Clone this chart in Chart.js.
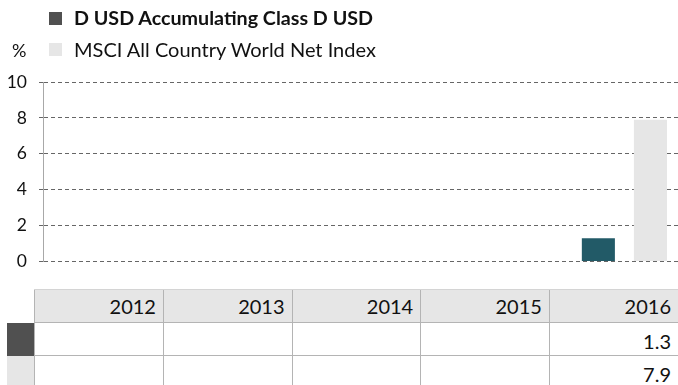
<!DOCTYPE html>
<html>
<head>
<meta charset="utf-8">
<script src="https://cdn.jsdelivr.net/npm/chart.js@4/dist/chart.umd.min.js"></script>
<style>
  html, body { margin: 0; padding: 0; background: #fff; }
  body { width: 678px; height: 385px; overflow: hidden; position: relative; font-family: Lato, "Open Sans", sans-serif; color: #111; }
  #plot { position: absolute; left: 0; top: 0; }
  .swatch { position: absolute; width: 13px; height: 13px; }
  .legtext { position: absolute; left: 74px; line-height: 22px; white-space: nowrap; }
  #unit { position: absolute; left: 12px; top: 39px; font-size: 18px; line-height: 22px; }
  #tbl { position: absolute; left: 7px; top: 289px; border-collapse: collapse; table-layout: fixed; font-size: 20px; }
  #tbl td { padding: 0 7px 0 0; text-align: right; box-sizing: border-box; }
  #tbl tr.head td.val { background: #e6e6e6; border-top: 1px solid #d4d4d4; height: 33px; }
  #tbl tr.row td { height: 33px; padding-top: 3px; }
  #tbl td.val { border-left: 1px solid #b4b4b4; border-bottom: 1px solid #b4b4b4; }
  #tbl td.mark { padding: 0; }
</style>
</head>
<body>
<canvas id="plot" width="700" height="284"></canvas>
<div id="unit">%</div>
<div class="swatch" style="left:49px;top:12px;background:#505050"></div>
<div class="legtext" id="leg1" style="top:7px;font-weight:bold;font-size:19.7px"></div>
<div class="swatch" style="left:49px;top:43px;background:#e6e6e6"></div>
<div class="legtext" id="leg2" style="top:38px;font-size:20px"></div>
<table id="tbl"></table>
<script>
// Calendar-year returns, in percent
const years = ['2012', '2013', '2014', '2015', '2016'];
const fundReturns = [null, null, null, null, 1.3];
const indexReturns = [null, null, null, null, 7.9];
const yTicks = [0, 2, 4, 6, 8, 10];
const fundName = 'D USD Accumulating Class D USD';
const indexName = 'MSCI All Country World Net Index';

const FUND_BAR = '#225a67';
const FUND_KEY = '#505050';
const INDEX_COLOR = '#e6e6e6';

document.getElementById('leg1').textContent = fundName;
document.getElementById('leg2').textContent = indexName;

new Chart(document.getElementById('plot'), {
  type: 'bar',
  data: {
    labels: years,
    datasets: [
      { label: fundName, data: fundReturns, backgroundColor: FUND_BAR },
      { label: indexName, data: indexReturns, backgroundColor: INDEX_COLOR }
    ]
  },
  options: {
    responsive: false,
    animation: false,
    devicePixelRatio: 1,
    layout: { padding: { top: 82, bottom: 18, left: 0, right: 11 } },
    datasets: { bar: { categoryPercentage: 0.806, barPercentage: 0.635 } },
    plugins: { legend: { display: false }, tooltip: { enabled: false } },
    scales: {
      x: { display: false },
      y: {
        min: 0,
        max: 10,
        afterBuildTicks: s => { s.ticks = yTicks.map(v => ({ value: v })); },
        afterFit: s => { s.width = 43; },
        ticks: { color: '#111', padding: 12, font: { family: 'Lato', size: 17.5 } },
        grid: { color: '#666', lineWidth: 1, tickLength: 4, tickColor: '#666', tickBorderDash: [4, 3] },
        border: { display: true, color: '#a8a8a8', width: 1, dash: [4, 3] }
      }
    }
  }
});

// Data table under the plot
const tbl = document.getElementById('tbl');
const colg = document.createElement('colgroup');
[28].concat(years.map(() => 129.2)).forEach(w => {
  const c = document.createElement('col');
  c.style.width = w + 'px';
  colg.appendChild(c);
});
tbl.appendChild(colg);

function addRow(cls, markColor, cells) {
  const tr = document.createElement('tr');
  tr.className = cls;
  const m = document.createElement('td');
  m.className = 'mark';
  if (markColor) m.style.background = markColor;
  tr.appendChild(m);
  cells.forEach(v => {
    const td = document.createElement('td');
    td.className = 'val';
    td.textContent = v == null ? '' : v.toFixed ? v.toFixed(1) : v;
    tr.appendChild(td);
  });
  tbl.appendChild(tr);
}
addRow('head', null, years);
addRow('row', FUND_KEY, fundReturns);
addRow('row', INDEX_COLOR, indexReturns);
</script>
</body>
</html>
